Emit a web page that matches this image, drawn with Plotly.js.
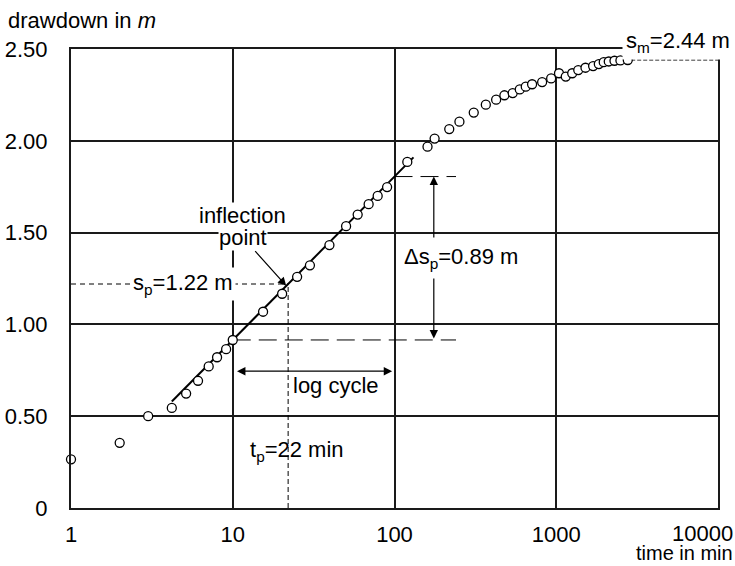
<!DOCTYPE html>
<html>
<head>
<meta charset="utf-8">
<script src="https://cdn.plot.ly/plotly-3.0.1.min.js"></script>
<style>
  html, body { margin: 0; padding: 0; background: #fff; }
  #chart { width: 735px; height: 566px; }
</style>
</head>
<body>
<div id="chart"></div>
<script>
// Pumping test: drawdown against time on a semi-log plot,
// with the inflection-point construction (Hantush method).

// observed drawdown
const timeMin = [1, 2, 3, 4.2, 5.15, 6.1, 7.1, 8.0, 9.1, 10,
  15.4, 20.2, 25, 30, 39.6, 50.2, 59.2, 69.2, 78.7, 90,
  120, 160, 177, 218, 252, 309, 367, 425, 478, 538,
  595, 648, 709, 818, 930, 1040, 1145, 1255, 1368, 1516,
  1690, 1833, 1966, 2112, 2291, 2493, 2768];
const drawdownM = [0.265, 0.355, 0.50, 0.545, 0.623, 0.693, 0.771, 0.821, 0.865, 0.915,
  1.069, 1.167, 1.259, 1.322, 1.432, 1.535, 1.598, 1.655, 1.70, 1.748,
  1.885, 1.968, 2.012, 2.064, 2.104, 2.154, 2.197, 2.224, 2.248, 2.26,
  2.28, 2.295, 2.308, 2.32, 2.34, 2.368, 2.35, 2.368, 2.385, 2.398,
  2.407, 2.418, 2.428, 2.432, 2.436, 2.438, 2.44];

// construction values
const tP = 22;          // time of inflection point, min
const sP = 1.22;        // drawdown at inflection point, m
const dSP = 0.89;       // slope per log cycle, m
const sM = 2.44;        // maximum drawdown, m
const fitRange = [4.2, 131];
const dsExtent = 240;   // right end of the slope marker lines
const dsArrowT = 175;   // where the slope arrow sits
const cycleArrowT = [10.4, 96.7];
const cycleArrowS = 0.745;

// axis ticks
const xTickVals = [1, 10, 100, 1000];
const yTickVals = [0, 0.5, 1.0, 1.5, 2.0, 2.5];
const yTickText = ['0', '0.50', '1.00', '1.50', '2.00', '2.50'];

const lineAt = t => sP + dSP * Math.log10(t / tP);
const s10 = lineAt(10), s100 = lineAt(100);
const L = Math.log10;

const FONT = 'Liberation Sans, Arial, Helvetica, sans-serif';
const black = '#000';
const grid = '#1a1a1a';

const dashed = (x, y, dash) => ({
  x, y, type: 'scatter', mode: 'lines', hoverinfo: 'skip', showlegend: false,
  line: { color: black, width: 1, dash }
});

const traces = [
  { x: fitRange, y: fitRange.map(lineAt), type: 'scatter', mode: 'lines',
    line: { color: black, width: 2 }, showlegend: false, hoverinfo: 'skip' },
  dashed([1, tP], [sP, sP], '5px,4px'),
  dashed([tP, tP], [0, sP], '5px,3px'),
  dashed([10, dsExtent], [s10, s10], '18px,8px'),
  dashed([100, dsExtent], [s100, s100], '18px,8px'),
  dashed([timeMin[timeMin.length - 1] * 1.05, 10000], [sM, sM], '4px,2px'),
  { x: timeMin, y: drawdownM, type: 'scatter', mode: 'markers', cliponaxis: false,
    showlegend: false,
    marker: { symbol: 'circle', size: 9, color: '#fff', line: { color: black, width: 1.3 } } }
];

const txt = (text, x, y, extra) => Object.assign({
  text, x, y, xref: 'x', yref: 'y', showarrow: false,
  font: { family: FONT, size: 22, color: black }
}, extra || {});

const arrow = (x, y, ax, ay, extra) => Object.assign({
  text: '', x, y, ax, ay, xref: 'x', yref: 'y', axref: 'x', ayref: 'y',
  showarrow: true, arrowhead: 2, arrowsize: 1.4, arrowwidth: 1.2, arrowcolor: black,
  standoff: 0, startstandoff: 0
}, extra || {});

const paperTxt = (text, x, y, xanchor, yanchor, xshift, yshift, extra) => Object.assign({
  text, xref: 'paper', yref: 'paper', x, y, xanchor, yanchor, xshift, yshift,
  showarrow: false, font: { family: FONT, size: 22, color: black }
}, extra || {});

const annotations = [
  // slope arrow and log-cycle arrow
  arrow(L(dsArrowT), s100, L(dsArrowT), s10, { arrowside: 'end+start' }),
  arrow(L(cycleArrowT[1]), cycleArrowS, L(cycleArrowT[0]), cycleArrowS, { arrowside: 'end+start' }),
  // pointer to the inflection point
  arrow(L(21.4), 1.21, L(13.5), 1.407),

  txt('inflection', L(11.5), 1.592, { bgcolor: '#fff', borderpad: 0 }),
  txt('point', L(11.5), 1.476, { bgcolor: '#fff', borderpad: 0 }),
  txt('s<sub>p</sub>=1.22 m', L(4.95), sP, { bgcolor: '#fff', borderpad: 2 }),
  txt('\u0394s<sub>p</sub>=0.89 m', L(256), 1.36, { bgcolor: '#fff', borderpad: 6 }),
  txt('log cycle', L(43.7), 0.666),
  txt('t<sub>p</sub>=22 min', L(12.5), 0.31, { xanchor: 'left' }),

  // maximum drawdown label, sitting over the top frame
  paperTxt('s<sub>m</sub>=2.44 m', 0.938, 1, 'center', 'middle', 0, 7,
    { bgcolor: '#fff', borderpad: 3 }),

  // axis captions and the last x tick
  paperTxt('drawdown in <i>m</i>', 0, 1, 'left', 'middle', -65, 29),
  paperTxt('10000', 1, 0, 'right', 'middle', 17, -25),
  paperTxt('time in min', 1, 0, 'right', 'bottom', 17, -58, { font: { family: FONT, size: 20, color: black } })
];

const axisCommon = {
  showgrid: true, gridcolor: grid, gridwidth: 2,
  showline: true, mirror: true, linecolor: grid, linewidth: 2,
  zeroline: false, ticks: 'outside', tickcolor: 'rgba(0,0,0,0)',
  tickfont: { family: FONT, size: 22, color: black }
};

const layout = {
  width: 735, height: 566,
  margin: { l: 71, r: 17, t: 49, b: 58 },
  paper_bgcolor: '#fff', plot_bgcolor: '#fff',
  font: { family: FONT, color: black },
  showlegend: false,
  xaxis: Object.assign({}, axisCommon, {
    type: 'log', range: [0, 4], tickmode: 'array', tickvals: xTickVals,
    ticktext: xTickVals.map(String), ticklen: 6
  }),
  yaxis: Object.assign({}, axisCommon, {
    range: [0, 2.5], tickmode: 'array', tickvals: yTickVals, ticktext: yTickText,
    ticklen: 17
  }),
  annotations
};

Plotly.newPlot('chart', traces, layout, { staticPlot: true, displayModeBar: false });
</script>
</body>
</html>
